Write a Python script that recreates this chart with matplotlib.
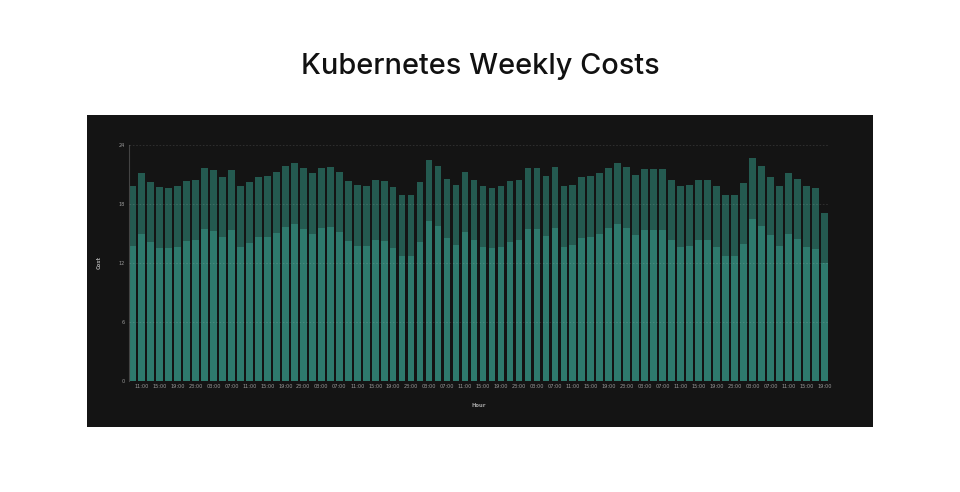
import matplotlib
matplotlib.use("Agg")
import matplotlib.pyplot as plt
import numpy as np

# Data
hours = [f"{(9 + 2 * i) % 24:02d}:00" for i in range(78)]

lower = [13.7, 15.0, 14.1, 13.5, 13.5, 13.6, 14.2, 14.3, 15.5, 15.25,
         14.66, 15.4, 13.6, 14.05, 14.6, 14.66, 15.1, 15.65, 15.96, 15.5,
         14.97, 15.55, 15.65, 15.14, 14.25, 13.77, 13.7, 14.3, 14.25, 13.5,
         12.7, 12.75, 14.1, 16.26, 15.75, 14.5, 13.8, 15.14, 14.3, 13.6,
         13.5, 13.6, 14.15, 14.3, 15.5, 15.45, 14.7, 15.55, 13.6, 13.8,
         14.5, 14.66, 14.97, 15.55, 16.0, 15.6, 14.8, 15.4, 15.4, 15.4,
         14.35, 13.64, 13.7, 14.3, 14.3, 13.6, 12.7, 12.7, 13.98, 16.5,
         15.75, 14.8, 13.7, 15.0, 14.4, 13.64, 13.47, 11.97]

total = [19.84, 21.2, 20.3, 19.7, 19.67, 19.8, 20.35, 20.5, 21.7, 21.45,
         20.8, 21.5, 19.8, 20.25, 20.76, 20.87, 21.3, 21.9, 22.16, 21.7,
         21.17, 21.7, 21.8, 21.24, 20.4, 19.98, 19.88, 20.46, 20.4, 19.7,
         18.9, 18.9, 20.3, 22.47, 21.9, 20.6, 20.0, 21.3, 20.46, 19.8,
         19.67, 19.8, 20.35, 20.5, 21.7, 21.65, 20.87, 21.75, 19.84, 20.0,
         20.73, 20.87, 21.2, 21.7, 22.2, 21.8, 21.0, 21.6, 21.6, 21.55,
         20.5, 19.84, 19.9, 20.5, 20.5, 19.8, 18.9, 18.9, 20.2, 22.67,
         21.85, 20.73, 19.84, 21.17, 20.6, 19.8, 19.64, 17.1]

upper = [t - l for t, l in zip(total, lower)]

y_ticks = [0, 6, 12, 18, 24]

title = "Kubernetes Weekly Costs"

fig = plt.figure(figsize=(9.6, 4.92), dpi=100)
fig.patch.set_facecolor("white")

# dark panel
bg = fig.add_axes([87 / 960, 65 / 492, 786 / 960, 312 / 492], zorder=-1)
bg.set_facecolor("#141414")
bg.set_xticks([])
bg.set_yticks([])
for s in bg.spines.values():
    s.set_visible(False)

ax = fig.add_axes([129 / 960, 111.4 / 492, 699 / 960, 235.3 / 492], zorder=1)
ax.set_facecolor("none")

x = np.arange(len(hours))
w = 0.74
ax.bar(x, lower, width=w, color="#2e7a6d", edgecolor="none", zorder=2)
ax.bar(x, upper, bottom=lower, width=w, color="#245a50", edgecolor="none", zorder=2)

ax.set_xlim(-0.41, len(hours) - 1 + 0.41)
ax.set_ylim(0, 24)
ax.set_yticks(y_ticks)
ax.set_yticklabels([str(v) for v in y_ticks])
ax.set_axisbelow(False)
ax.yaxis.grid(True, color="#ffffff", alpha=0.13, linestyle=(0, (2, 2)), linewidth=0.6)

tick_pos = x[1::2]
ax.set_xticks(tick_pos)
ax.set_xticklabels([hours[i] for i in tick_pos])

ax.tick_params(axis="both", length=0, labelsize=3.6, labelcolor="#9a9a9a")
ax.tick_params(axis="x", pad=2.2)
ax.tick_params(axis="y", pad=3)
for s in ["top", "right", "bottom"]:
    ax.spines[s].set_visible(False)
ax.spines["left"].set_color("#444444")
ax.spines["left"].set_linewidth(0.8)

ax.set_xlabel("Hour", fontsize=3.8, color="#a0a0a0", fontweight="bold", labelpad=10)
ax.set_ylabel("Cost", fontsize=3.8, color="#a0a0a0", fontweight="bold", labelpad=12)

fig.text(0.5, 1 - 66 / 492, title, ha="center", va="center",
         fontsize=20.8, color="#111111", fontweight="medium",
         family=["Inter", "DejaVu Sans"])

fig.savefig("out.png", dpi=100, facecolor="white")
